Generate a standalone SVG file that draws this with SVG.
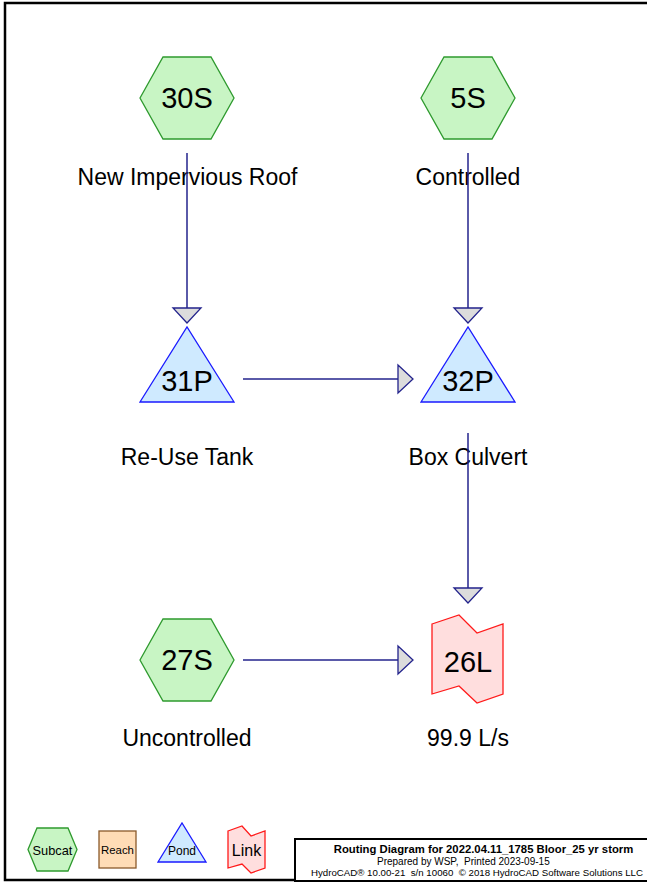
<svg xmlns="http://www.w3.org/2000/svg" width="647" height="884" viewBox="0 0 647 884">
<style>
.sub{fill:#c8f5c4;stroke:#2e9a2e;stroke-width:1.3}
.pond{fill:#cfeaff;stroke:#1a1aff;stroke-width:1.3}
.link{fill:#ffdede;stroke:#ff1a1a;stroke-width:1.3}
.reach{fill:#ffdcb6;stroke:#8b5a2b;stroke-width:1.3}
.id{font-family:"Liberation Sans",Arial,sans-serif;font-size:29px;text-anchor:middle;fill:#000}
.lbl{font-family:"Liberation Sans",Arial,sans-serif;font-size:23px;text-anchor:middle;fill:#000}
.con{stroke:#23238c;stroke-width:1.5;fill:none}
.ah{fill:#dcdcdc;stroke:#23238c;stroke-width:1.3}
.t{font-family:"Liberation Sans",Arial,sans-serif;fill:#000}
</style>
<rect x="0" y="0" width="647" height="884" fill="#fff"/>
<rect x="5" y="3" width="650" height="877" fill="none" stroke="#000" stroke-width="2.5"/>

<g id="n30S">
<polygon class="sub" points="140,98 163,57 211,57 234,98 211,139 163,139"/>
<text class="id" x="187" y="108">30S</text>
<text class="lbl" x="187.5" y="185">New Impervious Roof</text>
</g>
<g id="n5S">
<polygon class="sub" points="421,98 444,57 492,57 515,98 492,139 444,139"/>
<text class="id" x="468" y="108">5S</text>
<text class="lbl" x="468" y="185">Controlled</text>
</g>
<g id="n31P">
<polygon class="pond" points="140,402 187,327 234,402"/>
<text class="id" x="187" y="391">31P</text>
<text class="lbl" x="187" y="465">Re-Use Tank</text>
</g>
<g id="n32P">
<polygon class="pond" points="421,402 468,327 515,402"/>
<text class="id" x="468" y="391">32P</text>
<text class="lbl" x="468" y="465">Box Culvert</text>
</g>
<g id="n27S">
<polygon class="sub" points="140,660 163,619 211,619 234,660 211,701 163,701"/>
<text class="id" x="187" y="670">27S</text>
<text class="lbl" x="187" y="746">Uncontrolled</text>
</g>
<g id="n26L">
<polygon class="link" points="432,624 459,615 477,633 503,624 503,694 477,703 459,686 432,694"/>
<text class="id" x="468" y="672">26L</text>
<text class="lbl" x="468" y="746">99.9 L/s</text>
</g>

<g id="connectors">
<line class="con" x1="187" y1="153" x2="187" y2="308"/>
<polygon class="ah" points="173,308 201,308 187,323"/>
<line class="con" x1="468" y1="153" x2="468" y2="308"/>
<polygon class="ah" points="454,308 482,308 468,323"/>
<line class="con" x1="243" y1="379" x2="398" y2="379"/>
<polygon class="ah" points="398,365 398,393 413,379"/>
<line class="con" x1="468" y1="433" x2="468" y2="588"/>
<polygon class="ah" points="454,588 482,588 468,603"/>
<line class="con" x1="243" y1="660" x2="398" y2="660"/>
<polygon class="ah" points="398,646 398,674 413,660"/>
</g>

<g id="legend">
<g id="leg-subcat">
<polygon class="sub" points="28,849.5 37,828 68,828 77,849.5 68,871 37,871"/>
<text class="t" x="52.5" y="854.5" font-size="12.8" text-anchor="middle">Subcat</text>
</g>
<g id="leg-reach">
<rect class="reach" x="99" y="831" width="37" height="37"/>
<text class="t" x="117.5" y="854" font-size="11.4" text-anchor="middle">Reach</text>
</g>
<g id="leg-pond">
<polygon class="pond" points="158,862 182,823 206,862"/>
<text class="t" x="182" y="855" font-size="12" text-anchor="middle">Pond</text>
</g>
<g id="leg-link">
<polygon class="link" points="228,831 242,826 251,836 265,831 265,868 251,873 242,864 228,868"/>
<text class="t" x="246.5" y="856" font-size="16" text-anchor="middle">Link</text>
</g>
</g>

<g id="titleblock">
<rect x="295" y="839" width="360" height="42" fill="#fff" stroke="#000" stroke-width="2"/>
<text class="t" x="483.5" y="852.5" font-size="11.3" font-weight="bold" text-anchor="middle">Routing Diagram for 2022.04.11_1785 Bloor_25 yr storm</text>
<text class="t" x="377" y="864.5" font-size="10" xml:space="preserve">Prepared by WSP,  Printed 2023-09-15</text>
<text class="t" x="311" y="875.5" font-size="9.7" xml:space="preserve">HydroCAD® 10.00-21  s/n 10060  © 2018 HydroCAD Software Solutions LLC</text>
</g>
</svg>
